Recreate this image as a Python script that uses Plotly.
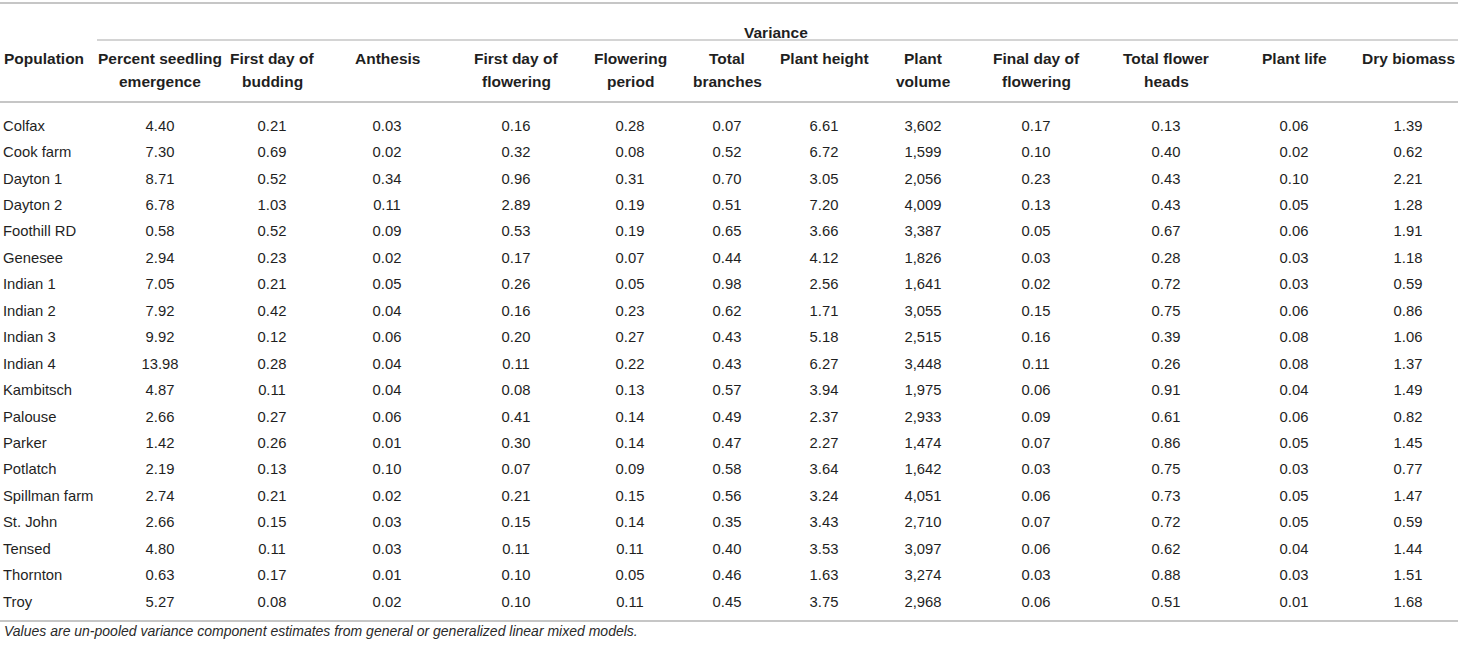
import plotly.graph_objects as go

W, H = 1458, 648

populations = ["Colfax", "Cook farm", "Dayton 1", "Dayton 2", "Foothill RD", "Genesee",
               "Indian 1", "Indian 2", "Indian 3", "Indian 4", "Kambitsch", "Palouse",
               "Parker", "Potlatch", "Spillman farm", "St. John", "Tensed", "Thornton", "Troy"]

seedling_emergence = [4.40, 7.30, 8.71, 6.78, 0.58, 2.94, 7.05, 7.92, 9.92, 13.98, 4.87, 2.66,
                      1.42, 2.19, 2.74, 2.66, 4.80, 0.63, 5.27]
first_budding = [0.21, 0.69, 0.52, 1.03, 0.52, 0.23, 0.21, 0.42, 0.12, 0.28, 0.11, 0.27,
                 0.26, 0.13, 0.21, 0.15, 0.11, 0.17, 0.08]
anthesis = [0.03, 0.02, 0.34, 0.11, 0.09, 0.02, 0.05, 0.04, 0.06, 0.04, 0.04, 0.06,
            0.01, 0.10, 0.02, 0.03, 0.03, 0.01, 0.02]
first_flowering = [0.16, 0.32, 0.96, 2.89, 0.53, 0.17, 0.26, 0.16, 0.20, 0.11, 0.08, 0.41,
                   0.30, 0.07, 0.21, 0.15, 0.11, 0.10, 0.10]
flowering_period = [0.28, 0.08, 0.31, 0.19, 0.19, 0.07, 0.05, 0.23, 0.27, 0.22, 0.13, 0.14,
                    0.14, 0.09, 0.15, 0.14, 0.11, 0.05, 0.11]
total_branches = [0.07, 0.52, 0.70, 0.51, 0.65, 0.44, 0.98, 0.62, 0.43, 0.43, 0.57, 0.49,
                  0.47, 0.58, 0.56, 0.35, 0.40, 0.46, 0.45]
plant_height = [6.61, 6.72, 3.05, 7.20, 3.66, 4.12, 2.56, 1.71, 5.18, 6.27, 3.94, 2.37,
                2.27, 3.64, 3.24, 3.43, 3.53, 1.63, 3.75]
plant_volume = [3602, 1599, 2056, 4009, 3387, 1826, 1641, 3055, 2515, 3448, 1975, 2933,
                1474, 1642, 4051, 2710, 3097, 3274, 2968]
final_flowering = [0.17, 0.10, 0.23, 0.13, 0.05, 0.03, 0.02, 0.15, 0.16, 0.11, 0.06, 0.09,
                   0.07, 0.03, 0.06, 0.07, 0.06, 0.03, 0.06]
flower_heads = [0.13, 0.40, 0.43, 0.43, 0.67, 0.28, 0.72, 0.75, 0.39, 0.26, 0.91, 0.61,
                0.86, 0.75, 0.73, 0.72, 0.62, 0.88, 0.51]
plant_life = [0.06, 0.02, 0.10, 0.05, 0.06, 0.03, 0.03, 0.06, 0.08, 0.08, 0.04, 0.06,
              0.05, 0.03, 0.05, 0.05, 0.04, 0.03, 0.01]
dry_biomass = [1.39, 0.62, 2.21, 1.28, 1.91, 1.18, 0.59, 0.86, 1.06, 1.37, 1.49, 0.82,
               1.45, 0.77, 1.47, 0.59, 1.44, 1.51, 1.68]

headers = ["Percent seedling<br>emergence", "First day of<br>budding", "Anthesis",
           "First day of<br>flowering", "Flowering<br>period", "Total<br>branches", "Plant height",
           "Plant<br>volume", "Final day of<br>flowering", "Total flower<br>heads", "Plant life",
           "Dry biomass"]
row_header = "Population"
group_title = "Variance"
footnote = "Values are un-pooled variance component estimates from general or generalized linear mixed models."

value_columns = [seedling_emergence, first_budding, anthesis, first_flowering, flowering_period,
                 total_branches, plant_height, plant_volume, final_flowering, flower_heads,
                 plant_life, dry_biomass]
value_formats = ["{:.2f}"] * 7 + ["{:,}"] + ["{:.2f}"] * 4

# layout (pixels)
col_centers = [160, 272, 387, 516, 630, 727, 824, 923, 1036, 1166, 1294, 1408]
first_row_px, row_step_px = 127, 26.44
header_line1_px, header_step_px = 59, 22.5

font = "Liberation Sans, Arial, sans-serif"
ink = "#1f1f1f"
rule = "#c6c6c6"


def py(px):
    # pixel row from the top -> paper fraction
    return 1 - px / H


fig = go.Figure()

fig.add_trace(go.Scatter(x=[3] * len(populations), y=populations, mode="text",
                         text=populations, textposition="middle right",
                         textfont=dict(family=font, size=14.8, color=ink),
                         hoverinfo="skip"))
for cx, vals, fmt in zip(col_centers, value_columns, value_formats):
    fig.add_trace(go.Scatter(x=[cx] * len(vals), y=populations, mode="text",
                             text=[fmt.format(v) for v in vals], textposition="middle center",
                             textfont=dict(family=font, size=14.8, color=ink),
                             hoverinfo="skip"))

# header labels, one annotation per line so the line spacing matches
fig.add_annotation(text="<b>%s</b>" % row_header, xref="paper", yref="paper",
                   x=3 / W, y=py(header_line1_px), xanchor="left", yanchor="middle",
                   showarrow=False, borderpad=0, font=dict(family=font, size=15.5, color=ink))
for cx, label in zip(col_centers, headers):
    for k, line in enumerate(label.split("<br>")):
        fig.add_annotation(text="<b>%s</b>" % line, xref="paper", yref="paper",
                           x=cx / W, y=py(header_line1_px + k * header_step_px),
                           xanchor="center", yanchor="middle", showarrow=False, borderpad=0,
                           font=dict(family=font, size=15.5, color=ink))
fig.add_annotation(text="<b>%s</b>" % group_title, xref="paper", yref="paper",
                   x=776 / W, y=py(32), xanchor="center", yanchor="middle", showarrow=False,
                   borderpad=0, font=dict(family=font, size=15.5, color=ink))
fig.add_annotation(text="<i>%s</i>" % footnote, xref="paper", yref="paper",
                   x=3 / W, y=py(631), xanchor="left", yanchor="middle", showarrow=False,
                   borderpad=0, font=dict(family=font, size=14, color="#2a2a2a"))

# horizontal rules of the table
for y_px, x0_px, lw in [(3, 0, 2), (40, 97, 1.5), (102, 0, 2), (621, 0, 2)]:
    fig.add_shape(type="line", xref="paper", yref="paper", x0=x0_px / W, x1=1,
                  y0=py(y_px), y1=py(y_px), line=dict(color=rule, width=lw))

fig.update_xaxes(range=[0, W], visible=False, fixedrange=True)
fig.update_yaxes(type="category", categoryorder="array", categoryarray=populations,
                 range=[(H - first_row_px) / row_step_px, -first_row_px / row_step_px],
                 visible=False, fixedrange=True)
fig.update_layout(width=W, height=H, margin=dict(l=0, r=0, t=0, b=0, pad=0),
                  paper_bgcolor="white", plot_bgcolor="white", showlegend=False)

# the page body has a default 8px margin; drop it so the figure sits at the window corner
fig.write_html("out.html", config={"displayModeBar": False},
               post_script="document.body.style.margin='0px';")
